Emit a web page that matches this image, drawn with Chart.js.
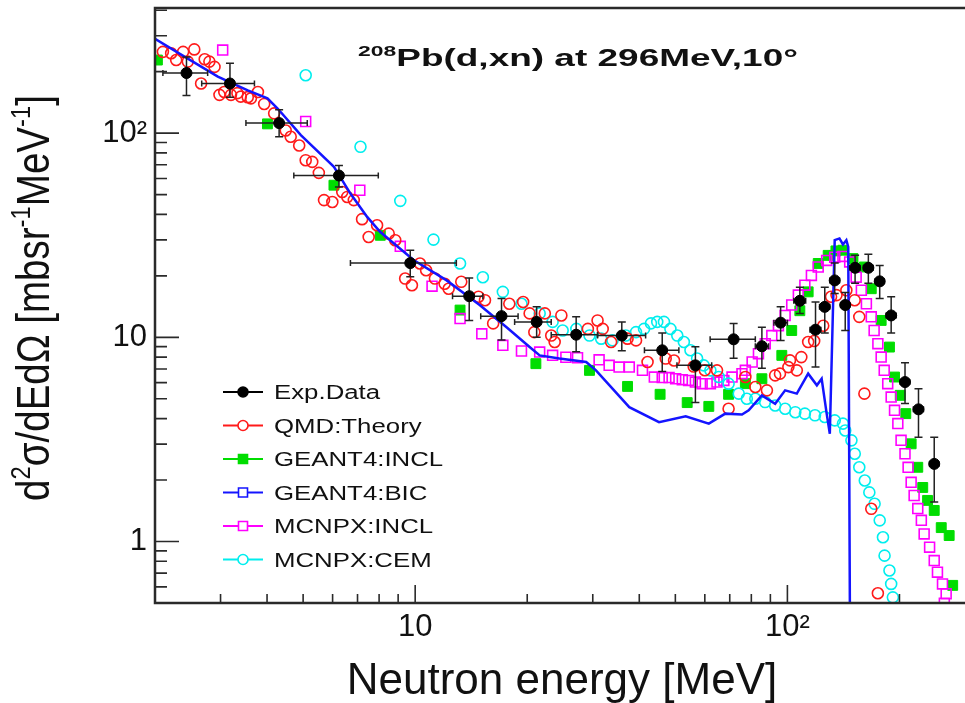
<!DOCTYPE html>
<html>
<head>
<meta charset="utf-8">
<title>208Pb(d,xn) at 296MeV, 10 deg</title>
<script src="https://cdn.jsdelivr.net/npm/chart.js@4.4.1/dist/chart.umd.min.js"></script>
<style>
  html, body { margin: 0; padding: 0; background: #fff; }
  #wrap { width: 965px; height: 703px; }
</style>
</head>
<body>
<div id="wrap"><canvas id="spectrum" width="965" height="703"></canvas></div>
<script>
// ---- data (energy in MeV, cross section in mb/sr/MeV) ----
const expEnergy   = [2.43, 3.18, 4.31, 6.24, 9.70, 13.97, 17.06, 21.2, 27.07, 35.9, 46.1, 56.6, 71.7, 85.4, 95.9, 108, 119, 126, 134, 143, 152, 165, 177, 190, 207, 225, 248];
const expValue    = [197, 175, 112, 62, 23.1, 15.9, 12.7, 11.9, 10.3, 10.2, 8.64, 7.29, 9.78, 9.04, 11.8, 15.1, 10.9, 14.1, 19.0, 14.4, 21.9, 21.9, 18.8, 12.8, 6.04, 4.44, 2.40];
const expEnergyLo = [2.10, 2.67, 3.51, 4.72, 6.7, 12.6, 15.0, 18.5, 23.2, 30.9, 41.3, 50.5, 62, 82, 92, 104, 115, 122, 130, 139, 147, 160, 172, 184, 201, 218, 241];
const expEnergyHi = [2.77, 3.70, 5.13, 7.96, 12.9, 15.2, 18.9, 23.2, 30.9, 41.6, 51.1, 62.6, 82, 89, 100, 112, 123, 130, 138, 147, 157, 170, 182, 196, 213, 232, 255];
const expValueLo  = [153, 150, 96, 54.5, 19.8, 12.1, 9.7, 10.0, 8.5, 8.6, 6.8, 4.8, 7.9, 7.05, 9.66, 13.1, 7.15, 10.5, 16.4, 10.8, 18.4, 18.4, 15.5, 10.5, 4.74, 3.24, 1.56];
const expValueHi  = [236, 220, 130, 69.5, 26.7, 19.5, 15.5, 14.1, 12.6, 11.9, 10.5, 9.0, 11.7, 11.2, 14.1, 17.6, 14.9, 17.6, 23.1, 16.6, 25.2, 25.5, 22.5, 15.8, 7.5, 5.6, 3.24];

const qmdEnergy = [2.10, 2.21, 2.28, 2.38, 2.45, 2.55, 2.66, 2.72, 2.80, 2.89, 2.98, 3.07, 3.20, 3.33, 3.40, 3.55, 3.62, 3.78, 3.93, 4.18, 4.49, 4.63, 4.88, 5.08, 5.29, 5.51, 5.69, 5.99, 6.37, 6.57, 6.84, 7.2, 7.5, 7.9, 8.49, 8.84, 9.4, 9.8, 10.3, 10.7, 11.3, 12.0, 12.3, 13.3, 14.8, 15.4, 16.2, 17.9, 19.5, 20.3, 20.9, 22.3, 23.2, 23.7, 24.7, 29.1, 30.9, 31.9, 33.6, 37.2, 39.2, 42.1, 47.1, 49.6, 56, 60, 64.7, 69.5, 77.1, 82, 88.1, 92.7, 95.5, 100.6, 101.6, 106, 109, 113.7, 118, 124.8, 131, 135.5, 144, 151.6, 156, 161, 168, 175];
const qmdValue  = [250, 246, 228, 250, 224, 257, 175, 230, 224, 211, 154, 159, 154, 157, 151, 150, 148, 159, 139, 125, 103, 96, 87, 73.7, 72.3, 63.9, 47, 46, 51.5, 48.7, 47, 37.9, 31, 35.4, 32.2, 29.9, 19.4, 18.0, 23.0, 21.3, 19.4, 18.3, 17.3, 18.7, 15.8, 15.2, 11.7, 14.6, 14.9, 13.1, 10.6, 13.1, 10.2, 9.49, 12.8, 11.0, 12.1, 11.0, 9.49, 9.85, 9.66, 7.57, 7.87, 7.7, 7.2, 6.9, 6.89, 4.47, 6.39, 5.71, 5.5, 6.51, 6.64, 7.15, 7.71, 6.89, 8.0, 9.49, 9.6, 11.4, 15.8, 16.1, 17.0, 15.2, 12.6, 5.3, 1.446, 0.558];

const g4InclEnergy = [2.03, 4.01, 6.05, 8.06, 13.2, 21.1, 29.4, 37.2, 45.5, 53.8, 61.5, 69.5, 77.1, 85.4, 96.6, 102.7, 108, 113.7, 121, 128.7, 135, 141, 150, 161, 168, 178.6, 188, 194, 201, 208, 215, 224, 231, 238, 248, 259, 272, 278];
const g4InclValue  = [228, 111, 55.6, 31.6, 13.6, 7.43, 6.89, 5.75, 5.26, 4.79, 4.59, 5.26, 5.93, 6.27, 8.16, 10.8, 13.5, 16.7, 23.0, 25.2, 26.5, 26.7, 24.3, 22.1, 17.3, 12.1, 8.96, 6.39, 5.2, 4.23, 3.01, 2.31, 1.84, 1.59, 1.42, 1.17, 1.07, 0.61];

const g4BicEnergy = [2.0, 2.40, 2.95, 3.55, 4.01, 4.27, 4.93, 6.05, 6.70, 7.43, 8.06, 9.9, 12.15, 14.9, 17.6, 20.3, 21.6, 24.4, 28.8, 30.6, 37.6, 45.2, 53.3, 61.5, 68.1, 75.5, 78.7, 85.4, 92.7, 98.6, 106, 113.7, 120, 123.6, 127.5, 130, 134, 138, 141, 144, 145.7, 147.5];
const g4BicValue  = [290, 237, 189, 162, 148, 132, 97.8, 68.4, 50.6, 38.9, 32.8, 23.9, 19.0, 14.4, 11.2, 8.96, 8.16, 7.87, 7.57, 6.89, 4.55, 3.84, 4.10, 3.78, 4.23, 4.19, 4.39, 5.2, 4.73, 5.5, 5.3, 6.64, 5.82, 6.27, 4.23, 3.37, 29.9, 30.5, 28.5, 29.9, 27.7, 0.2];

const mcnpxInclEnergy = [3.04, 5.08, 7.10, 9.12, 11.1, 13.2, 15.1, 17.2, 19.3, 21.6, 23.4, 25.4, 27.3, 31.2, 33.2, 35.3, 37.6, 40.8, 43.9, 46.1, 48.1, 50.1, 52.2, 54.3, 56.6, 59.0, 62.1, 64.7, 67.5, 71.0, 75.5, 77.1, 80.4, 83.6, 87.2, 90.8, 94.6, 98.6, 102.7, 107, 111.4, 116, 121, 127.5, 134, 141, 147, 153, 158, 163, 168, 171, 175, 178.6, 182, 186, 190, 194, 198, 202, 207, 211, 215, 219, 224, 229, 233, 241, 248, 253, 261, 264, 267];
const mcnpxInclValue  = [255, 114, 52.5, 27.9, 17.8, 12.35, 10.4, 9.14, 8.57, 8.47, 8.16, 7.99, 7.95, 7.76, 7.29, 7.15, 7.15, 6.89, 6.39, 6.35, 6.35, 6.27, 6.2, 6.15, 6.04, 5.93, 5.93, 6.04, 6.15, 6.39, 6.64, 6.89, 7.57, 8.32, 9.31, 10.2, 11.4, 12.8, 14.4, 16.1, 18.0, 20.1, 22.1, 23.8, 24.7, 24.9, 23.4, 19.7, 17.0, 14.6, 12.6, 10.8, 9.31, 8.0, 6.89, 5.93, 5.1, 4.39, 3.78, 3.13, 2.69, 2.31, 1.95, 1.68, 1.45, 1.27, 1.09, 0.938, 0.807, 0.708, 0.62, 0.499, 0.555];

const mcnpxCemEnergy = [5.08, 7.13, 9.12, 11.2, 13.2, 15.2, 17.2, 19.3, 21.6, 23.4, 24.9, 27.1, 29.4, 31.6, 33.9, 36.8, 39.2, 41.2, 43.0, 44.7, 46.6, 48.5, 50.6, 52.7, 54.9, 57.2, 59.6, 62.1, 65.4, 69.5, 74.0, 77.8, 82, 87.1, 92.7, 98.6, 105, 111.4, 118.6, 126, 134, 141, 143, 148.6, 151.7, 156, 161.4, 166, 171.5, 177, 180.6, 182.4, 188, 190, 192];
const mcnpxCemValue  = [192, 85.7, 46.6, 30.1, 23.0, 19.7, 16.7, 14.6, 13.1, 11.9, 10.8, 11.0, 10.2, 9.85, 9.66, 10.2, 10.6, 11.0, 11.7, 11.9, 11.9, 11.0, 10.2, 9.49, 8.64, 7.87, 7.29, 6.89, 6.39, 5.93, 5.3, 5.0, 5.0, 4.82, 4.64, 4.47, 4.30, 4.23, 4.15, 4.07, 3.92, 3.78, 3.50, 3.13, 2.69, 2.31, 1.99, 1.74, 1.53, 1.27, 1.05, 0.853, 0.721, 0.62, 0.533];

const xTickLabels = [[10, '10'], [100, '10²']];
const yTickLabels = [[1, '1'], [10, '10'], [100, '10²']];

const FONT = "'Liberation Sans', Arial, Helvetica, sans-serif";

const toPoints = (xs, ys) => xs.map((x, i) => ({ x, y: ys[i] }));
const labelFor = (table, v) => {
  const hit = table.find(([t]) => Math.abs(v - t) < t * 1e-6);
  return hit ? hit[1] : '';
};
const isDecadeStep = (v) => {
  const m = v / Math.pow(10, Math.floor(Math.log10(v) + 1e-9));
  return Math.abs(m - Math.round(m)) < 1e-6;
};
const isDecade = (v) => Math.abs(Math.log10(v) - Math.round(Math.log10(v))) < 1e-6;

// legend rows: label, colour, marker, filled
const legendRows = [
  ['Exp.Data', '#000000', 'circle', true],
  ['QMD:Theory', '#ff1a1a', 'circle', false],
  ['GEANT4:INCL', '#00dd00', 'rect', true],
  ['GEANT4:BIC', '#1414ff', 'rect', false],
  ['MCNPX:INCL', '#ff00ff', 'rect', false],
  ['MCNPX:CEM', '#00eeee', 'circle', false],
];

// draw text made of normal / superscript pieces, stretched horizontally by sx
function drawRich(ctx, parts, x, y, size, weight, sx) {
  ctx.save();
  ctx.translate(x, y);
  ctx.scale(sx, 1);
  let cx = 0;
  parts.forEach(([t, sup]) => {
    const fs = sup ? size * 0.62 : size;
    ctx.font = `${weight} ${fs}px ${FONT}`;
    ctx.fillText(t, cx, sup ? -size * 0.42 : 0);
    cx += ctx.measureText(t).width;
  });
  ctx.restore();
}
function richWidth(ctx, parts, size, weight) {
  let w = 0;
  parts.forEach(([t, sup]) => {
    ctx.font = `${weight} ${sup ? size * 0.62 : size}px ${FONT}`;
    w += ctx.measureText(t).width;
  });
  return w;
}

const errorBars = {
  id: 'errorBars',
  afterDatasetDraw(chart, args) {
    if (args.index !== 1) return; // just before the Exp.Data markers
    const { ctx, chartArea: a, scales: { x, y } } = chart;
    ctx.save();
    ctx.beginPath();
    ctx.rect(a.left, a.top, a.right - a.left, a.bottom - a.top);
    ctx.clip();
    ctx.strokeStyle = '#222';
    ctx.lineWidth = 1.5;
    expEnergy.forEach((e, i) => {
      const px = x.getPixelForValue(e);
      const py = y.getPixelForValue(expValue[i]);
      const xl = x.getPixelForValue(expEnergyLo[i]);
      const xh = x.getPixelForValue(expEnergyHi[i]);
      const yl = y.getPixelForValue(expValueLo[i]);
      const yh = y.getPixelForValue(expValueHi[i]);
      ctx.beginPath();
      ctx.moveTo(xl, py); ctx.lineTo(xh, py);
      ctx.moveTo(xl, py - 3); ctx.lineTo(xl, py + 3);
      ctx.moveTo(xh, py - 3); ctx.lineTo(xh, py + 3);
      ctx.moveTo(px, yl); ctx.lineTo(px, yh);
      ctx.moveTo(px - 4, yl); ctx.lineTo(px + 4, yl);
      ctx.moveTo(px - 4, yh); ctx.lineTo(px + 4, yh);
      ctx.stroke();
    });
    ctx.restore();
  }
};

// ROOT style frame with inward tick marks
const frameTicks = {
  id: 'frameTicks',
  afterDatasetsDraw(chart) {
    const { ctx, chartArea: a, scales: { x, y } } = chart;
    ctx.save();
    ctx.strokeStyle = '#2a2a2a';
    ctx.lineWidth = 1.6;
    ctx.beginPath();
    x.ticks.forEach(t => {
      if (!isDecadeStep(t.value)) return;
      const px = x.getPixelForValue(t.value);
      if (px <= a.left + 1 || px >= a.right - 1) return;
      const len = isDecade(t.value) ? 18 : 9;
      ctx.moveTo(px, a.bottom); ctx.lineTo(px, a.bottom - len);
    });
    y.ticks.forEach(t => {
      if (!isDecadeStep(t.value)) return;
      const py = y.getPixelForValue(t.value);
      if (py <= a.top + 1 || py >= a.bottom - 1) return;
      const len = isDecade(t.value) ? 24 : 12;
      ctx.moveTo(a.left, py); ctx.lineTo(a.left + len, py);
    });
    ctx.stroke();
    ctx.lineWidth = 2.5;
    ctx.beginPath();
    ctx.moveTo(a.right, a.top); ctx.lineTo(a.left, a.top);
    ctx.lineTo(a.left, a.bottom); ctx.lineTo(a.right, a.bottom);
    ctx.stroke();
    ctx.restore();
  }
};

const textLayer = {
  id: 'textLayer',
  afterDraw(chart) {
    const { ctx } = chart;
    ctx.save();
    ctx.fillStyle = '#111';
    ctx.textBaseline = 'alphabetic';
    ctx.textAlign = 'left';

    // title
    const title = [['208', true], ['Pb(d,xn) at 296MeV,10°', false]];
    const tw = richWidth(ctx, title, 24, 'bold');
    drawRich(ctx, title, 358, 66, 24, 'bold', 440 / tw);

    // x axis title
    ctx.font = `44px ${FONT}`;
    ctx.textAlign = 'center';
    ctx.fillText('Neutron energy [MeV]', 562, 694);
    ctx.textAlign = 'left';

    // y axis title, rotated
    const ytitle = [['d', false], ['2', true], ['σ/dEdΩ [mbsr', false], ['-1', true], ['MeV', false], ['-1', true], [']', false]];
    const yw = richWidth(ctx, ytitle, 34, 'normal');
    ctx.save();
    ctx.translate(49, 298);
    ctx.rotate(-Math.PI / 2);
    ctx.scale(1, 1.35);
    drawRich(ctx, ytitle, -203, 0, 34, 'normal', 406 / yw);
    ctx.restore();

    // legend
    legendRows.forEach(([label, color, marker, filled], i) => {
      const ry = 392 + i * 33.5;
      ctx.strokeStyle = color;
      ctx.fillStyle = color;
      ctx.lineWidth = 2;
      ctx.beginPath();
      ctx.moveTo(223, ry); ctx.lineTo(263, ry);
      ctx.stroke();
      ctx.beginPath();
      if (marker === 'circle') ctx.arc(243, ry, 5, 0, Math.PI * 2);
      else ctx.rect(238.5, ry - 4.5, 9, 9);
      if (filled) ctx.fill();
      else { ctx.fillStyle = '#fff'; ctx.fill(); }
      ctx.lineWidth = 1.6;
      ctx.stroke();
      ctx.fillStyle = '#111';
      drawRich(ctx, [[label, false]], 274, ry + 7, 20, 'normal', 1.29);
    });
    ctx.restore();
  }
};

const openMarker = 'rgba(0,0,0,0)';

new Chart(document.getElementById('spectrum'), {
  type: 'scatter',
  data: {
    datasets: [
      { label: 'Exp.Data', data: toPoints(expEnergy, expValue), pointStyle: 'circle', pointRadius: 5.5,
        backgroundColor: '#000', borderColor: '#000', borderWidth: 1 },
      { label: 'GEANT4:BIC', data: toPoints(g4BicEnergy, g4BicValue), showLine: true, pointRadius: 0,
        borderColor: '#1414ff', borderWidth: 2.5, tension: 0 },
      { label: 'QMD:Theory', data: toPoints(qmdEnergy, qmdValue), pointStyle: 'circle', pointRadius: 5.5,
        borderColor: '#ff1a1a', backgroundColor: openMarker, borderWidth: 1.6 },
      { label: 'MCNPX:CEM', data: toPoints(mcnpxCemEnergy, mcnpxCemValue), pointStyle: 'circle', pointRadius: 5.5,
        borderColor: '#00eeee', backgroundColor: openMarker, borderWidth: 1.6 },
      { label: 'MCNPX:INCL', data: toPoints(mcnpxInclEnergy, mcnpxInclValue), pointStyle: 'rect', pointRadius: 7,
        borderColor: '#ff00ff', backgroundColor: openMarker, borderWidth: 1.6 },
      { label: 'GEANT4:INCL', data: toPoints(g4InclEnergy, g4InclValue), pointStyle: 'rect', pointRadius: 7,
        borderColor: '#00dd00', backgroundColor: '#00dd00', borderWidth: 1 },
    ]
  },
  options: {
    responsive: false,
    animation: false,
    devicePixelRatio: 1,
    events: [],
    layout: { autoPadding: false, padding: { top: 8, right: 0, bottom: 0, left: 0 } },
    plugins: { legend: { display: false }, tooltip: { enabled: false } },
    scales: {
      x: {
        type: 'logarithmic', min: 2, max: 300,
        grid: { display: false }, border: { display: false },
        ticks: {
          autoSkip: false, maxRotation: 0, minRotation: 0, padding: -2, color: '#111',
          font: { family: FONT, size: 31 },
          callback: (v) => labelFor(xTickLabels, v)
        },
        afterFit: (s) => { s.height = 100; s.paddingLeft = 0; s.paddingRight = 0; }
      },
      y: {
        type: 'logarithmic', min: 0.5, max: 410,
        grid: { display: false }, border: { display: false },
        ticks: {
          autoSkip: false, padding: 0, color: '#111',
          font: { family: FONT, size: 31 },
          callback: (v) => labelFor(yTickLabels, v)
        },
        afterFit: (s) => { s.width = 155; s.paddingTop = 0; s.paddingBottom = 0; }
      }
    }
  },
  plugins: [errorBars, frameTicks, textLayer]
});
</script>
</body>
</html>
